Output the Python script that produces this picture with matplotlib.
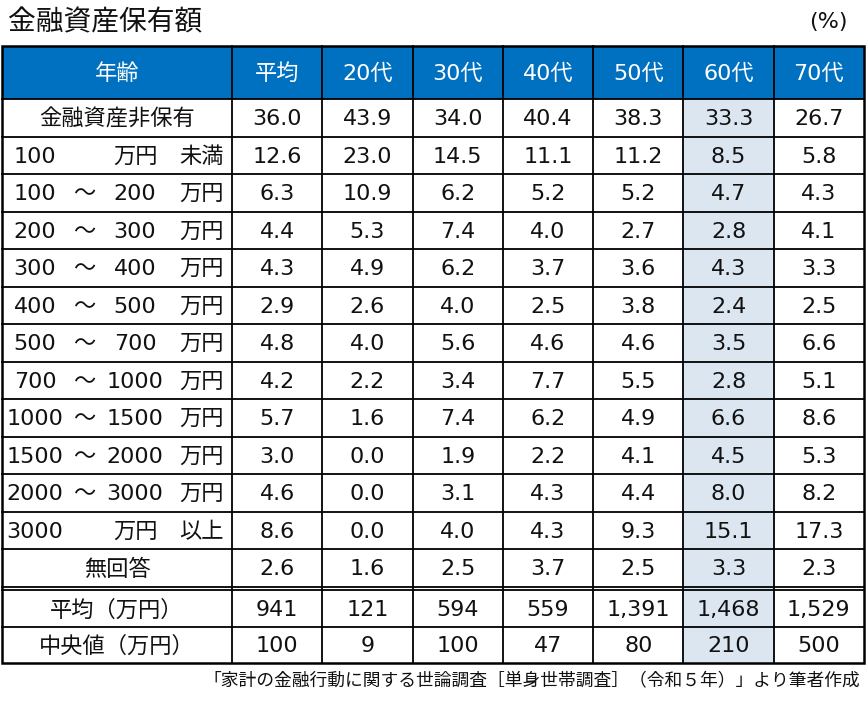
import matplotlib
matplotlib.use("Agg")
import matplotlib.pyplot as plt
from matplotlib.patches import Rectangle

# DejaVu digits are close to the wide Meiryo digits, CJK falls through to Noto
plt.rcParams['font.family'] = ['DejaVu Sans', 'Noto Sans CJK JP']

# --- data -------------------------------------------------------------
title = "金融資産保有額"
unit = "(%)"
source = "「家計の金融行動に関する世論調査［単身世帯調査］（令和５年）」より筆者作成"

col_names = ["平均", "20代", "30代", "40代", "50代", "60代", "70代"]

# row labels: plain string = centred, tuple = (from, ~, to, suffix)
row_labels = [
    "金融資産非保有",
    ("100", "", "万円", "未満"),
    ("100", "～", "200", "万円"),
    ("200", "～", "300", "万円"),
    ("300", "～", "400", "万円"),
    ("400", "～", "500", "万円"),
    ("500", "～", "700", "万円"),
    ("700", "～", "1000", "万円"),
    ("1000", "～", "1500", "万円"),
    ("1500", "～", "2000", "万円"),
    ("2000", "～", "3000", "万円"),
    ("3000", "", "万円", "以上"),
    "無回答",
]
summary_labels = ["平均（万円）", "中央値（万円）"]

pct_avg = [36.0, 12.6, 6.3, 4.4, 4.3, 2.9, 4.8, 4.2, 5.7, 3.0, 4.6, 8.6, 2.6]
pct_20 = [43.9, 23.0, 10.9, 5.3, 4.9, 2.6, 4.0, 2.2, 1.6, 0.0, 0.0, 0.0, 1.6]
pct_30 = [34.0, 14.5, 6.2, 7.4, 6.2, 4.0, 5.6, 3.4, 7.4, 1.9, 3.1, 4.0, 2.5]
pct_40 = [40.4, 11.1, 5.2, 4.0, 3.7, 2.5, 4.6, 7.7, 6.2, 2.2, 4.3, 4.3, 3.7]
pct_50 = [38.3, 11.2, 5.2, 2.7, 3.6, 3.8, 4.6, 5.5, 4.9, 4.1, 4.4, 9.3, 2.5]
pct_60 = [33.3, 8.5, 4.7, 2.8, 4.3, 2.4, 3.5, 2.8, 6.6, 4.5, 8.0, 15.1, 3.3]
pct_70 = [26.7, 5.8, 4.3, 4.1, 3.3, 2.5, 6.6, 5.1, 8.6, 5.3, 8.2, 17.3, 2.3]

mean_man = [941, 121, 594, 559, 1391, 1468, 1529]
median_man = [100, 9, 100, 47, 80, 210, 500]

highlight_col = "60代"

# --- layout (pixel units) ---------------------------------------------
W, H = 866, 702
left, right = 2, 864
first_w = 230
top = 46
head_h = 53
row_h = 37.5
gap = 3.5
sum_h = 36.5

blue = "#0070C0"
hl = "#DCE6F1"

fig = plt.figure(figsize=(W / 100, H / 100), dpi=100)
ax = fig.add_axes([0, 0, 1, 1])
ax.set_xlim(0, W)
ax.set_ylim(H, 0)
ax.axis("off")

pcts = [pct_avg, pct_20, pct_30, pct_40, pct_50, pct_60, pct_70]
ncol = len(col_names)
col_w = (right - left - first_w) / ncol
col_x = [left + first_w + i * col_w for i in range(ncol)]

n = len(row_labels)
row_y = [top + head_h + i * row_h for i in range(n)]
body_bottom = row_y[-1] + row_h
sum_y = [body_bottom + gap + i * sum_h for i in range(len(summary_labels))]
bottom = sum_y[-1] + sum_h

# header + highlighted column
ax.add_patch(Rectangle((left, top), right - left, head_h, color=blue, lw=0))
hi = col_names.index(highlight_col)
ax.add_patch(Rectangle((col_x[hi], top + head_h), col_w, bottom - top - head_h,
                       color=hl, lw=0))

fs = 16
tc = "#111111"
va = "center_baseline"
dy = -0.5  # nudge to match the reference baseline

ax.text(left + first_w / 2, top + head_h / 2 + dy, "年齢", color="white", fontsize=fs,
        ha="center", va=va)
for x, name in zip(col_x, col_names):
    ax.text(x + col_w / 2, top + head_h / 2 + dy, name, color="white", fontsize=fs,
            ha="center", va=va)

# body rows
for i, lab in enumerate(row_labels):
    yc = row_y[i] + row_h / 2 + dy
    if isinstance(lab, str):
        ax.text(left + first_w / 2, yc, lab, fontsize=fs, color=tc, ha="center", va=va)
    else:
        for part, xc in zip(lab, [35, 84, 135, 201]):
            if part:
                ax.text(xc, yc, part, fontsize=fs, color=tc, ha="center", va=va)
    for j in range(ncol):
        ax.text(col_x[j] + col_w / 2, yc, f"{pcts[j][i]:.1f}", fontsize=fs, color=tc,
                ha="center", va=va)

for i, (lab, vals) in enumerate(zip(summary_labels, [mean_man, median_man])):
    yc = sum_y[i] + sum_h / 2 + dy
    ax.text(left + first_w / 2, yc, lab, fontsize=fs, color=tc, ha="center", va=va)
    for j in range(ncol):
        ax.text(col_x[j] + col_w / 2, yc, f"{vals[j]:,}", fontsize=fs, color=tc,
                ha="center", va=va)

# grid lines
lw = 1.3
for y in row_y[1:]:
    ax.plot([left, right], [y, y], color="black", lw=lw)
ax.plot([left, right], [top + head_h, top + head_h], color="black", lw=lw)
ax.plot([left, right], [body_bottom, body_bottom], color="black", lw=lw)
ax.plot([left, right], [body_bottom + gap, body_bottom + gap], color="black", lw=lw)
ax.plot([left, right], [sum_y[1], sum_y[1]], color="black", lw=lw)
for x in col_x:
    ax.plot([x, x], [top, bottom], color="black", lw=lw)
ax.add_patch(Rectangle((left, top), right - left, bottom - top, fill=False,
                       ec="black", lw=1.8))

# titles
ax.text(8, 22, title, fontsize=20, color=tc, ha="left", va="center")
ax.text(848, 22, unit, fontsize=16, color=tc, ha="right", va="center")
ax.text(860, 680, source, fontsize=12.8, color=tc, ha="right", va="center")

fig.savefig("out.png", dpi=100)
